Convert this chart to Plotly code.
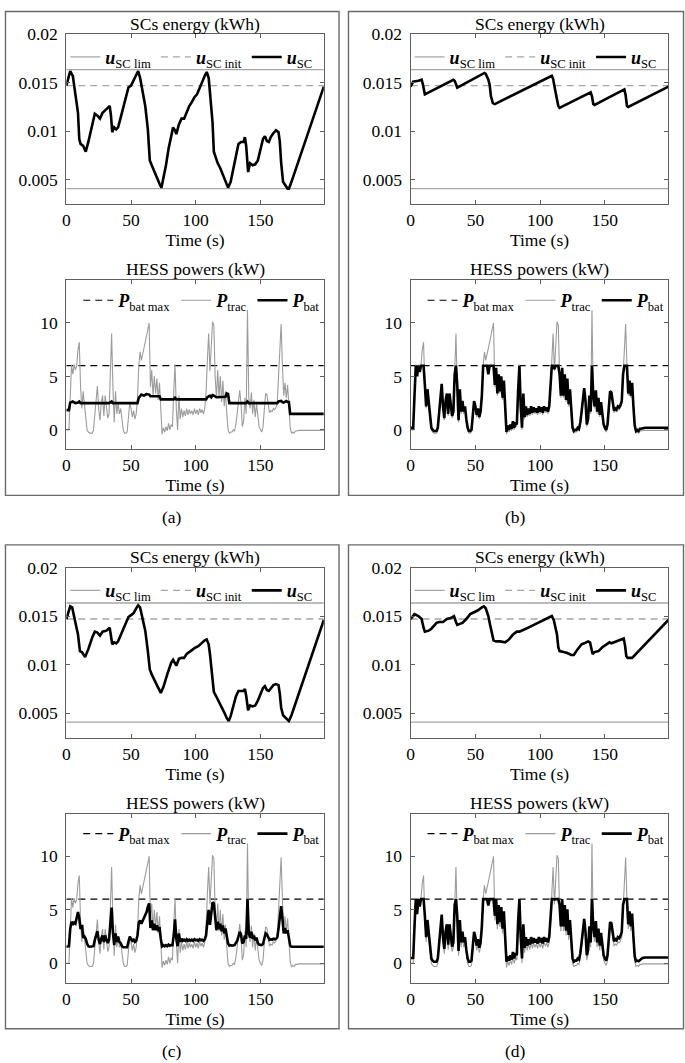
import plotly.graph_objects as go

# ---------------- data ----------------
time_s = list(range(200))

p_trac = [0.0, 0.0, 0.0, 3.0, 6.1, 5.2, 6.1, 5.6, 6.0, 7.5,
          8.2, 4.0, 2.0, 3.6, 2.5, 1.5, 0.0, -0.2, -0.3, -0.3,
          -0.3, 0.0, 1.5, 3.0, 4.1, 2.0, 0.9, 2.5, 3.2, 1.3,
          3.2, 2.2, 1.1, 1.5, 5.0, 9.0, 4.0, 0.7, 3.6, 1.5,
          2.5, 1.5, 2.0, 0.8, 0.0, -0.3, -0.3, -0.2, 1.0, 2.5,
          2.0, 1.2, 1.8, 1.0, 1.5, 3.0, 6.0, 7.3, 6.5, 7.0,
          7.6, 8.2, 8.8, 9.4, 10.0, 4.0, 5.6, 3.2, 5.0, 3.4,
          4.8, 2.8, 4.4, 2.0, -0.4, 0.2, -0.2, 0.3, -0.1, 0.6,
          0.0, 0.5, 0.3, 3.5, 6.1, 2.0, 0.0, 3.2, 1.0, 2.0,
          1.2, 1.8, 1.3, 2.0, 1.4, 1.9, 1.5, 1.8, 1.4, 2.0,
          1.5, 1.9, 1.4, 2.0, 1.6, 1.9, 1.5, 2.0, 3.5, 6.5,
          9.0, 5.5, 8.5, 10.1, 9.8, 5.0, 3.0, 5.6, 3.0, 5.0,
          2.6, 4.6, 2.2, 3.6, 1.5, 0.0, -0.3, -0.2, -0.2, 0.0,
          -0.1, 0.5, 1.5, 2.8, 3.7, 2.5, 0.3, 0.8, 3.0, 1.5,
          11.2, 3.0, 2.0, 3.5, 1.5, 2.8, 1.2, 2.4, 1.0, 0.3,
          0.0, -0.2, 0.3, 1.8, 3.4, 3.3, 2.5, 1.6, 1.8, 1.7,
          2.0, 1.9, 2.1, 2.5, 5.0, 8.0, 9.9, 6.0, 3.2, 4.4,
          3.0, 4.2, 2.0, 0.2, -0.3, -0.2, -0.3, -0.1, -0.1, -0.05,
          -0.05, -0.05, -0.05, -0.05, -0.05, -0.05, -0.05, -0.05, -0.05, -0.05,
          -0.05, -0.05, -0.05, -0.05, -0.05, -0.05, -0.05, -0.05, -0.05, -0.05]

# (a) battery power: step-like profile (breakpoints)
pbat_a_t = [0, 2, 3, 5, 7, 9, 10, 11, 33, 34,
            35, 36, 55, 56, 57, 58, 60, 62, 64, 65,
            72, 73, 83, 84, 85, 108, 109, 110, 111, 112,
            113, 114, 116, 123, 124, 125, 126, 139, 140, 141,
            163, 164, 166, 167, 168, 170, 171, 172, 173, 199]
pbat_a_v = [1.85, 1.85, 2.55, 2.65, 2.5, 2.55, 2.65, 2.5, 2.5, 2.6,
            2.65, 2.5, 2.5, 3.0, 3.15, 3.3, 3.2, 3.35, 3.3, 3.15,
            3.15, 2.85, 2.85, 3.0, 2.85, 2.85, 3.05, 3.15, 3.2, 3.05,
            3.25, 3.2, 3.05, 3.1, 3.4, 3.35, 2.5, 2.5, 2.65, 2.5,
            2.5, 2.65, 2.7, 2.6, 2.55, 2.7, 2.6, 2.6, 1.5, 1.5]

pbat_b = [0.2, 0.2, 0.2, 3.2, 6.0, 5.0, 6.0, 5.4, 6.0, 6.0,
          6.0, 4.2, 2.2, 3.8, 2.7, 1.7, 0.2, 0.0, -0.1, -0.1,
          -0.1, 0.2, 1.7, 3.2, 4.3, 2.2, 1.1, 2.7, 3.4, 1.5,
          3.4, 2.4, 1.3, 1.7, 5.2, 6.0, 4.2, 0.9, 3.8, 1.7,
          2.7, 1.7, 2.2, 1.0, 0.2, -0.1, -0.1, 0.0, 1.2, 2.7,
          2.2, 1.4, 2.0, 1.2, 1.7, 3.2, 6.0, 6.0, 6.0, 6.0,
          5.2, 6.0, 6.0, 6.0, 6.0, 4.2, 5.8, 3.4, 5.2, 3.6,
          5.0, 3.0, 4.6, 2.2, -0.2, 0.4, 0.0, 0.5, 0.1, 0.8,
          0.2, 0.7, 0.5, 3.7, 6.0, 2.2, 0.2, 3.4, 1.2, 2.2,
          1.4, 2.0, 1.5, 2.2, 1.6, 2.1, 1.7, 2.0, 1.6, 2.2,
          1.7, 2.1, 1.6, 2.2, 1.8, 2.1, 1.7, 2.2, 3.7, 6.0,
          6.0, 5.7, 6.0, 6.0, 6.0, 5.2, 3.2, 5.8, 3.2, 5.2,
          2.8, 4.8, 2.4, 3.8, 1.7, 0.2, -0.1, 0.0, 0.0, 0.2,
          0.1, 0.7, 1.7, 3.0, 3.9, 2.7, 0.5, 1.0, 3.2, 1.7,
          6.0, 3.2, 2.2, 3.7, 1.7, 3.0, 1.4, 2.6, 1.2, 0.5,
          0.2, 0.0, 0.5, 2.0, 3.6, 3.5, 2.7, 1.8, 2.0, 1.9,
          2.2, 2.1, 2.3, 2.7, 5.2, 6.0, 6.0, 6.0, 3.4, 4.6,
          3.2, 4.4, 2.2, 0.4, -0.1, 0.0, -0.1, 0.1, 0.1, 0.15,
          0.2, 0.2, 0.2, 0.2, 0.2, 0.2, 0.2, 0.2, 0.2, 0.2,
          0.2, 0.2, 0.2, 0.2, 0.2, 0.2, 0.2, 0.2, 0.2, 0.2]

pbat_c = [1.55, 1.55, 1.6, 3.2, 3.9, 3.6, 3.8, 3.7, 4.2, 4.8,
          4.2, 3.2, 3.6, 2.4, 2.5, 2.3, 1.85, 1.6, 1.55, 1.55,
          1.55, 1.6, 2.2, 2.7, 3.0, 2.2, 1.8, 2.3, 2.6, 2.0,
          2.6, 2.2, 1.9, 2.2, 4.0, 5.2, 2.9, 1.7, 2.8, 2.0,
          2.5, 2.0, 1.9, 1.6, 1.5, 1.5, 1.5, 1.5, 2.0, 2.5,
          2.3, 2.1, 2.2, 2.0, 2.1, 2.6, 3.8, 4.0, 3.7, 4.0,
          4.3, 4.5, 4.8, 5.3, 5.6, 3.3, 4.0, 3.1, 3.7, 3.1,
          3.55, 3.0, 3.4, 2.3, 1.6, 1.7, 1.6, 1.7, 1.6, 1.75,
          1.65, 1.7, 1.7, 2.6, 4.1, 2.3, 1.6, 2.8, 2.0, 2.3,
          2.1, 2.2, 2.1, 2.25, 2.1, 2.2, 2.1, 2.2, 2.1, 2.25,
          2.15, 2.2, 2.1, 2.25, 2.15, 2.2, 2.1, 2.25, 2.6, 3.9,
          5.0, 3.6, 4.6, 5.7, 5.6, 3.9, 3.1, 3.9, 3.2, 3.7,
          3.0, 3.55, 2.8, 3.25, 2.5, 1.85, 1.65, 1.7, 1.65, 1.7,
          1.7, 1.9, 2.1, 2.5, 2.95, 2.7, 1.85, 2.0, 2.6, 2.3,
          6.0, 2.8, 2.4, 2.95, 2.3, 2.6, 2.15, 2.4, 1.9, 1.75,
          1.7, 1.7, 1.8, 2.2, 2.8, 2.7, 2.4, 2.2, 2.25, 2.2,
          2.3, 2.25, 2.3, 2.4, 3.25, 4.6, 5.35, 4.2, 2.8, 3.3,
          2.8, 3.1, 2.3, 1.65, 1.55, 1.55, 1.55, 1.55, 1.55, 1.55,
          1.55, 1.55, 1.55, 1.55, 1.55, 1.55, 1.55, 1.55, 1.55, 1.55,
          1.55, 1.55, 1.55, 1.55, 1.55, 1.55, 1.55, 1.55, 1.55, 1.55]

pbat_d = [0.5, 0.5, 0.5, 3.45, 6.0, 4.6, 6.0, 5.3, 6.0, 6.0,
          6.0, 4.45, 2.45, 4.05, 2.95, 1.95, 0.45, 0.25, 0.15, 0.15,
          0.15, 0.45, 1.95, 3.45, 4.55, 2.45, 1.35, 2.95, 3.65, 1.75,
          3.65, 2.65, 1.55, 1.95, 5.45, 6.0, 4.45, 1.15, 4.05, 1.95,
          2.95, 1.95, 2.45, 1.25, 0.45, 0.15, 0.15, 0.25, 1.45, 2.95,
          2.45, 1.65, 2.25, 1.45, 1.95, 3.45, 6.0, 6.0, 6.0, 6.0,
          5.4, 6.0, 6.0, 6.0, 6.0, 4.45, 6.0, 3.65, 5.45, 3.85,
          5.25, 3.25, 4.85, 2.45, 0.15, 0.65, 0.25, 0.75, 0.35, 1.05,
          0.45, 0.95, 0.75, 3.95, 6.0, 2.45, 0.45, 3.65, 1.45, 2.45,
          1.65, 2.25, 1.75, 2.45, 1.85, 2.35, 1.95, 2.25, 1.85, 2.45,
          1.95, 2.35, 1.85, 2.45, 2.05, 2.35, 1.95, 2.45, 3.95, 6.0,
          6.0, 5.95, 6.0, 6.0, 6.0, 5.45, 3.45, 6.0, 3.45, 5.45,
          3.05, 5.05, 2.65, 4.05, 1.95, 0.45, 0.15, 0.25, 0.25, 0.45,
          0.35, 0.95, 1.95, 3.25, 4.15, 2.95, 0.75, 1.25, 3.45, 1.95,
          6.0, 3.45, 2.45, 3.95, 1.95, 3.25, 1.65, 2.85, 1.45, 0.75,
          0.45, 0.25, 0.75, 2.25, 3.85, 3.75, 2.95, 2.05, 2.25, 2.15,
          2.45, 2.35, 2.55, 2.95, 5.45, 6.0, 6.0, 6.0, 3.65, 4.85,
          3.45, 4.65, 2.45, 0.65, 0.2, 0.25, 0.2, 0.35, 0.4, 0.5,
          0.55, 0.55, 0.55, 0.55, 0.55, 0.55, 0.55, 0.55, 0.55, 0.55,
          0.55, 0.55, 0.55, 0.55, 0.55, 0.55, 0.55, 0.55, 0.55, 0.55]

# SC energy (kWh), breakpoints
u_a_t = [0, 3, 5, 7, 9, 10, 11, 13, 15, 17, 20, 22, 24, 26, 28, 30, 32, 33.5, 34.5, 35.5,
         37, 38.5, 40, 42, 44, 46, 48, 50, 52, 54, 55.5, 57, 59, 61, 63, 64.5, 66, 68, 70, 72,
         73.5, 75, 77, 79, 81, 82.5, 84, 85, 87, 89, 91, 93, 95, 97, 99, 101, 103, 105, 107, 108.5,
         110, 111, 112, 113, 114, 115.5, 117, 119, 121, 123, 125, 127, 129, 131, 133, 135, 137, 138, 139, 140.5,
         142, 144, 146, 148, 150, 152, 153.5, 155, 156.5, 158, 160, 162, 164, 165, 166, 167.5, 169, 171, 172, 174, 199]
u_a_v = [0.0147, 0.0162, 0.0157, 0.0138, 0.0119, 0.0092, 0.0087, 0.0085, 0.0079, 0.0089,
         0.0107, 0.0118, 0.0116, 0.0113, 0.0119, 0.0122, 0.0124, 0.0126, 0.0116, 0.0099,
         0.0104, 0.0102, 0.0104, 0.0114, 0.0124, 0.0136, 0.0145, 0.0147, 0.0152, 0.0158,
         0.0162, 0.0155, 0.0140, 0.0126, 0.0102, 0.0070, 0.0065, 0.0058, 0.0053, 0.0046,
         0.0042, 0.0051, 0.0065, 0.0082, 0.0096, 0.0104, 0.0101, 0.0097, 0.0107, 0.0113,
         0.0113, 0.0119, 0.0126, 0.0130, 0.0135, 0.0138, 0.0145, 0.0152, 0.0157, 0.0161,
         0.0155, 0.0140, 0.0126, 0.0109, 0.0079, 0.0072, 0.0067, 0.0062, 0.0055, 0.0048,
         0.0042, 0.0048, 0.0062, 0.0075, 0.0087, 0.0089, 0.0089, 0.0094, 0.0085, 0.0058,
         0.0067, 0.0065, 0.0066, 0.0070, 0.0082, 0.0092, 0.0095, 0.0090, 0.0089, 0.0094,
         0.0098, 0.0101, 0.0099, 0.0089, 0.0068, 0.0048, 0.0045, 0.0041, 0.0041, 0.0048, 0.0146]

u_b_t = [0, 2, 6, 8.5, 9.5, 11, 33, 34, 36, 57, 58, 60, 61, 62, 63.5, 65, 109, 110, 111.5, 112.5,
         114, 115, 139, 140, 141, 142, 165, 166, 167, 168, 199]
u_b_v = [0.0146, 0.0151, 0.0152, 0.0153, 0.0148, 0.0138, 0.0153, 0.0152, 0.0145, 0.0160,
         0.0159, 0.0153, 0.0148, 0.0136, 0.0129, 0.0128, 0.0157, 0.0154, 0.0143, 0.0136,
         0.0126, 0.0124, 0.0140, 0.0136, 0.0128, 0.0127, 0.0143, 0.0137, 0.0126, 0.0125, 0.0146]

u_c_t = [0, 3, 4.5, 7, 9, 10.5, 12, 14.5, 17, 20, 22, 24, 26, 28, 31, 33.5, 34.5, 35.5, 37, 38.5,
         40, 43, 46, 48, 50, 52, 54, 55.5, 57, 59, 61, 63, 64.5, 66, 68, 70, 73, 75, 78, 81,
         82.5, 84, 85, 87, 89, 91, 93, 96, 99, 102, 105, 107, 108.5, 110, 111, 112, 113, 114, 116, 118,
         120, 122, 124, 125.5, 127, 129, 131, 133, 135, 137, 138, 139, 140.5, 142, 144, 146, 148, 150, 152, 153.5,
         155, 156.5, 158, 160, 162, 164, 165, 166, 167.5, 169, 171, 172, 174, 199]
u_c_v = [0.0147, 0.0160, 0.0159, 0.0143, 0.0131, 0.0114, 0.0113, 0.0108, 0.0116, 0.0128,
         0.0134, 0.0133, 0.0130, 0.0134, 0.0135, 0.0138, 0.0131, 0.0121, 0.0123, 0.0122,
         0.0124, 0.0133, 0.0143, 0.0149, 0.0151, 0.0153, 0.0158, 0.0161, 0.0159, 0.0147,
         0.0135, 0.0114, 0.0095, 0.0090, 0.0084, 0.0079, 0.0071, 0.0077, 0.0090, 0.0102,
         0.0105, 0.0101, 0.0099, 0.0106, 0.0107, 0.0107, 0.0111, 0.0114, 0.0117, 0.0119,
         0.0123, 0.0125, 0.0126, 0.0121, 0.0111, 0.0099, 0.0084, 0.0072, 0.0067, 0.0062,
         0.0056, 0.0051, 0.0045, 0.0042, 0.0047, 0.0056, 0.0067, 0.0073, 0.0073, 0.0073,
         0.0075, 0.0068, 0.0053, 0.0058, 0.0057, 0.0058, 0.0063, 0.0070, 0.0076, 0.0078,
         0.0074, 0.0073, 0.0076, 0.0079, 0.0080, 0.0079, 0.0070, 0.0056, 0.0048, 0.0046,
         0.0043, 0.0042, 0.0048, 0.0146]

u_d_t = [0, 3, 6, 8.5, 10, 11, 14, 16, 20, 22, 25, 28, 31, 33.5, 35, 36, 38, 40, 43, 46,
         49, 52, 55, 56.5, 58, 60, 61.5, 63, 64, 66, 69, 73, 76, 79, 82, 84, 86, 89, 92, 95,
         99, 103, 106, 109, 110.5, 112, 113, 114, 115, 118, 121, 124, 126, 129, 132, 134, 137, 138.5, 139.5, 140.5,
         142, 145, 148, 151, 153.5, 155, 157, 159, 162, 164.5, 165.5, 166.5, 167.5, 171, 199]
u_d_v = [0.0147, 0.0152, 0.0150, 0.0147, 0.0138, 0.0134, 0.0135, 0.0137, 0.0143, 0.0144,
         0.0144, 0.0147, 0.0148, 0.0150, 0.0144, 0.0141, 0.0142, 0.0143, 0.0147, 0.0152,
         0.0154, 0.0156, 0.0159, 0.0160, 0.0158, 0.0150, 0.0140, 0.0130, 0.0125, 0.0124,
         0.0124, 0.0123, 0.0126, 0.0131, 0.0134, 0.0134, 0.0135, 0.0137, 0.0139, 0.0141,
         0.0143, 0.0146, 0.0148, 0.0150, 0.0146, 0.0136, 0.0131, 0.0118, 0.0114, 0.0113,
         0.0112, 0.0110, 0.0110, 0.0116, 0.0121, 0.0122, 0.0124, 0.0123, 0.0116, 0.0111,
         0.0113, 0.0114, 0.0118, 0.0121, 0.0123, 0.0122, 0.0123, 0.0124, 0.0125, 0.0127,
         0.0120, 0.0109, 0.0107, 0.0107, 0.0146]

u_sc_lim = [0.01635, 0.0041]
u_sc_init = 0.0147
p_bat_max = 6.0
t_span = [0, 199]

panel_labels = ["(a)", "(b)", "(c)", "(d)"]
energy_title = "SCs energy (kWh)"
power_title = "HESS powers (kW)"
x_title = "Time (s)"
x_ticks = [0, 50, 100, 150]
e_ticks = [0.005, 0.01, 0.015, 0.02]
e_ticktext = ["0.005", "0.01", "0.015", "0.02"]
p_ticks = [0, 5, 10]

# ---------------- layout helpers ----------------
W, H = 685, 1063
SERIF = "Liberation Serif"
FS = 17.5
GREY_AX = "#5f5f5f"
GREY_LINE = "#a6a6a6"


def fx(p):
    return p / W


def fy(p):
    return 1 - p / H


COL_X = [(62.7, 321.7), (409.0, 668.3)]
BOX_X = [(1.5, 337.0), (346.5, 683.5)]
ROW_OFF = [0.0, 538.5]
E_Y = (24.3, 196.0)
P_Y = (272.7, 443.3)

panels = [
    (0, 0, u_a_t, u_a_v, pbat_a_t, pbat_a_v),
    (1, 0, u_b_t, u_b_v, time_s, pbat_b),
    (0, 1, u_c_t, u_c_v, time_s, pbat_c),
    (1, 1, u_d_t, u_d_v, time_s, pbat_d),
]

fig = go.Figure()
layout = dict(width=W, height=H, margin=dict(l=0, r=0, t=0, b=0), autosize=False,
              paper_bgcolor="white", plot_bgcolor="white",
              font=dict(family=SERIF, size=FS, color="black"))
annotations = []
shapes = []

leg_u = ["<b><i>u</i></b><sub>SC lim</sub>", "<b><i>u</i></b><sub>SC init</sub>", "<b><i>u</i></b><sub>SC</sub>"]
leg_p = ["<b><i>P</i></b><sub>bat max</sub>", "<b><i>P</i></b><sub>trac</sub>", "<b><i>P</i></b><sub>bat</sub>"]

for k, (col, row, ut, uv, pt, pv) in enumerate(panels):
    off = ROW_OFF[row]
    x0, x1 = COL_X[col]
    ie = 2 * k + 1
    ip = 2 * k + 2
    for idx, (ylo, yhi) in ((ie, E_Y), (ip, P_Y)):
        xa = dict(domain=[fx(x0), fx(x1)], anchor="y%d" % idx, range=t_span,
                  tickvals=x_ticks, ticks="inside", ticklen=4, tickcolor=GREY_AX,
                  showline=True, linecolor=GREY_AX, linewidth=1, mirror="allticks",
                  showgrid=False, zeroline=False,
                  tickfont=dict(family=SERIF, size=FS, color="black"),
                  title=dict(text=x_title, font=dict(family=SERIF, size=FS), standoff=2))
        ya = dict(domain=[fy(yhi + off), fy(ylo + off)], anchor="x%d" % idx,
                  ticks="inside", ticklen=4, tickcolor=GREY_AX,
                  showline=True, linecolor=GREY_AX, linewidth=1, mirror="allticks",
                  showgrid=False, zeroline=False, ticklabelstandoff=4,
                  tickfont=dict(family=SERIF, size=FS, color="black"))
        if idx == ie:
            ya.update(range=[0.0025, 0.02], tickvals=e_ticks, ticktext=e_ticktext)
        else:
            ya.update(range=[-1.8, 14.0], tickvals=p_ticks)
        layout["xaxis%s" % ("" if idx == 1 else idx)] = xa
        layout["yaxis%s" % ("" if idx == 1 else idx)] = ya

    xr = "x%d" % ie
    yr = "y%d" % ie
    lg_e = "legend" if ie == 1 else "legend%d" % ie
    lg_p = "legend%d" % ip
    # energy subplot
    fig.add_trace(go.Scatter(x=[t_span[0], t_span[1], None, t_span[0], t_span[1]],
                             y=[u_sc_lim[0], u_sc_lim[0], None, u_sc_lim[1], u_sc_lim[1]],
                             mode="lines", line=dict(color=GREY_LINE, width=1.3),
                             name=leg_u[0], xaxis=xr, yaxis=yr, legend=lg_e, hoverinfo="skip"))
    fig.add_trace(go.Scatter(x=t_span, y=[u_sc_init, u_sc_init], mode="lines",
                             line=dict(color=GREY_LINE, width=1.3, dash="7px,5px"),
                             name=leg_u[1], xaxis=xr, yaxis=yr, legend=lg_e, hoverinfo="skip"))
    fig.add_trace(go.Scatter(x=ut, y=uv, mode="lines", line=dict(color="black", width=2.6),
                             name=leg_u[2], xaxis=xr, yaxis=yr, legend=lg_e))
    # power subplot
    xr = "x%d" % ip
    yr = "y%d" % ip
    fig.add_trace(go.Scatter(x=t_span, y=[p_bat_max, p_bat_max], mode="lines",
                             line=dict(color="black", width=1.2, dash="7px,5px"),
                             name=leg_p[0], xaxis=xr, yaxis=yr, legend=lg_p, hoverinfo="skip"))
    fig.add_trace(go.Scatter(x=time_s, y=p_trac, mode="lines",
                             line=dict(color="#9c9c9c", width=1.1),
                             name=leg_p[1], xaxis=xr, yaxis=yr, legend=lg_p))
    fig.add_trace(go.Scatter(x=pt, y=pv, mode="lines", line=dict(color="black", width=2.6),
                             name=leg_p[2], xaxis=xr, yaxis=yr, legend=lg_p))

    # legends
    for lg, ycen, xs in ((lg_e, 47.7, x0 - 1), (lg_p, 293.3, x0 + 12)):
        layout[lg] = dict(orientation="h", x=fx(xs), xanchor="left", y=fy(ycen + off),
                          yanchor="middle", bgcolor="rgba(0,0,0,0)", borderwidth=0,
                          font=dict(family=SERIF, size=18, color="black"),
                          itemwidth=30, tracegroupgap=0)

    # titles
    xc = (x0 + x1) / 2
    annotations.append(dict(text=energy_title, x=fx(xc), y=fy(14 + off), xref="paper", yref="paper",
                            showarrow=False, xanchor="center", yanchor="middle",
                            font=dict(family=SERIF, size=FS)))
    annotations.append(dict(text=power_title, x=fx(xc), y=fy(261.7 + off), xref="paper", yref="paper",
                            showarrow=False, xanchor="center", yanchor="middle",
                            font=dict(family=SERIF, size=FS)))
    bx0, bx1 = BOX_X[col]
    shapes.append(dict(type="rect", xref="paper", yref="paper",
                       x0=fx(bx0), x1=fx(bx1), y0=fy(490 + off), y1=fy(1.5 + off),
                       line=dict(color="#6a6a6a", width=1.4)))
    annotations.append(dict(text=panel_labels[k], x=fx((bx0 + bx1) / 2), y=fy(512 + off),
                            xref="paper", yref="paper", showarrow=False,
                            xanchor="center", yanchor="middle", font=dict(family=SERIF, size=FS)))

layout["annotations"] = annotations
layout["shapes"] = shapes
fig.update_layout(**layout)
fig.write_html("out.html", config={"displayModeBar": False},
               post_script="document.body.style.margin='0';document.body.style.padding='0';"
                           "document.documentElement.style.overflow='hidden';")
